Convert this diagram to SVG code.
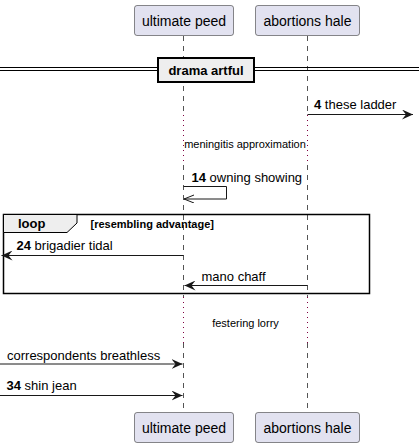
<svg xmlns="http://www.w3.org/2000/svg" width="419" height="448" viewBox="0 0 419 448">
<style>
.p{fill:#E2E2F0;stroke:#181818;stroke-width:0.5}
.pt{font-family:"Liberation Sans",Arial,sans-serif;font-size:14px;fill:#000}
.ll{stroke:#555555;stroke-width:1;stroke-dasharray:5,5}
.dl{stroke:#800040;stroke-width:1;stroke-dasharray:1,4}
.m{stroke:#181818;stroke-width:1;fill:none}
.t{font-family:"Liberation Sans",Arial,sans-serif;font-size:13px;fill:#000}
.b{font-weight:bold}
.s{font-family:"Liberation Sans",Arial,sans-serif;font-size:11px;fill:#000}
</style>
<defs>
<marker id="ah" markerWidth="12" markerHeight="10" refX="11" refY="5" orient="auto" markerUnits="userSpaceOnUse">
<path d="M0,0 L11,5 L0,10 L4,5 Z" fill="#181818"/>
</marker>
<marker id="oh" markerWidth="12" markerHeight="10" refX="10" refY="4" orient="auto" markerUnits="userSpaceOnUse">
<path d="M0,0 L10,4 L0,8" fill="none" stroke="#181818" stroke-width="1"/>
</marker>
</defs>
<g id="lifelines">
<line class="ll" x1="183.5" y1="36" x2="183.5" y2="115"/>
<line class="dl" x1="183.5" y1="115" x2="183.5" y2="165"/>
<line class="ll" x1="183.5" y1="165" x2="183.5" y2="297"/>
<line class="dl" x1="183.5" y1="297" x2="183.5" y2="343"/>
<line class="ll" x1="183.5" y1="343" x2="183.5" y2="412"/>
<line class="ll" x1="307.5" y1="36" x2="307.5" y2="115"/>
<line class="dl" x1="307.5" y1="115" x2="307.5" y2="165"/>
<line class="ll" x1="307.5" y1="165" x2="307.5" y2="297"/>
<line class="dl" x1="307.5" y1="297" x2="307.5" y2="343"/>
<line class="ll" x1="307.5" y1="343" x2="307.5" y2="412"/>
</g>
<g id="p1">
<rect class="p" x="134.5" y="5.5" width="99" height="30" rx="2.5"/>
<text class="pt" x="184" y="25.5" text-anchor="middle">ultimate peed</text>
</g>
<g id="p2">
<rect class="p" x="255.5" y="5.5" width="104" height="30" rx="2.5"/>
<text class="pt" x="307.5" y="25.5" text-anchor="middle">abortions hale</text>
</g>
<g id="p1b">
<rect class="p" x="134.5" y="412.5" width="99" height="30" rx="2.5"/>
<text class="pt" x="184" y="432.5" text-anchor="middle">ultimate peed</text>
</g>
<g id="p2b">
<rect class="p" x="255.5" y="412.5" width="104" height="30" rx="2.5"/>
<text class="pt" x="307.5" y="432.5" text-anchor="middle">abortions hale</text>
</g>
<g id="divider">
<line x1="0" y1="67.5" x2="419" y2="67.5" stroke="#000" stroke-width="1"/>
<line x1="0" y1="70.5" x2="419" y2="70.5" stroke="#000" stroke-width="1"/>
<rect x="158" y="58" width="96" height="24" fill="#EEEEEE" stroke="#000" stroke-width="2"/>
<text class="t b" x="206" y="75" text-anchor="middle">drama artful</text>
</g>
<g id="loop">
<rect x="3.5" y="214.5" width="366" height="79" fill="none" stroke="#000" stroke-width="1.5"/>
<path d="M3.5,214.5 L77,214.5 L77,223 L67,232.5 L3.5,232.5 Z" fill="#EEEEEE" stroke="#000" stroke-width="1"/>
<text class="t b" x="18" y="228">loop</text>
<text class="s b" x="90.5" y="227.5">[resembling advantage]</text>
</g>
<g id="connectors">
<line class="m" x1="307.5" y1="114.5" x2="413" y2="114.5" marker-end="url(#ah)"/>
<text class="t" x="314" y="108.5"><tspan class="b">4</tspan> these ladder</text>
<text class="s" x="245" y="148" text-anchor="middle">meningitis approximation</text>
<path class="m" d="M183.5,186.5 L226.5,186.5 L226.5,199 L184,199" marker-end="url(#oh)"/>
<text class="t" x="191.5" y="182"><tspan class="b">14</tspan> owning showing</text>
<line class="m" x1="183.5" y1="255.5" x2="1.5" y2="255.5" marker-end="url(#ah)"/>
<text class="t" x="16.5" y="249.5"><tspan class="b">24</tspan> brigadier tidal</text>
<line class="m" x1="307.5" y1="285.5" x2="184.5" y2="285.5" marker-end="url(#ah)"/>
<text class="t" x="201.5" y="281">mano chaff</text>
<text class="s" x="245.5" y="326.5" text-anchor="middle">festering lorry</text>
<line class="m" x1="0" y1="364" x2="182.5" y2="364" marker-end="url(#ah)"/>
<text class="t" x="7" y="359.5">correspondents breathless</text>
<line class="m" x1="0" y1="395.5" x2="182.5" y2="395.5" marker-end="url(#ah)"/>
<text class="t" x="6.5" y="389.5"><tspan class="b">34</tspan> shin jean</text>
</g>
</svg>
